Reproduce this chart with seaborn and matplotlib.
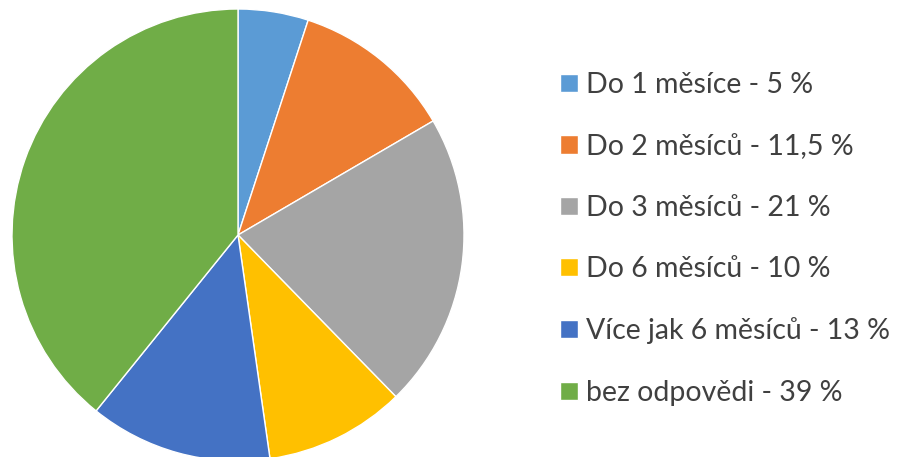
import matplotlib
matplotlib.use('Agg')
import matplotlib.pyplot as plt
import seaborn as sns

labels = ['Do 1 měsíce - 5 %', 'Do 2 měsíců - 11,5 %', 'Do 3 měsíců - 21 %',
          'Do 6 měsíců - 10 %', 'Více jak 6 měsíců - 13 %', 'bez odpovědi - 39 %']
values = [5, 11.5, 21, 10, 13, 39]
colors = ['#5B9BD5', '#ED7D31', '#A5A5A5', '#FFC000', '#4472C4', '#70AD47']

sns.set_theme(style='white')
plt.rcParams['font.family'] = ['Lato', 'DejaVu Sans']
palette = sns.color_palette(colors)

fig = plt.figure(figsize=(8.98, 4.57), dpi=100)
# pie centre (238, 235) px, radius 226 px
ax = fig.add_axes([12 / 898, -4 / 457, 452 / 898, 452 / 457])
wedges, _ = ax.pie(values, colors=palette, startangle=90, counterclock=False,
                   wedgeprops={'edgecolor': 'white', 'linewidth': 1})
ax.set_xlim(-1, 1)
ax.set_ylim(-1, 1)
ax.set_aspect('equal')
ax.axis('off')

fig.legend(wedges, labels, loc='center left', bbox_to_anchor=(560 / 898, 1 - 239 / 457),
           frameon=False, fontsize=20.5, handlelength=0.62, handleheight=0.6,
           handletextpad=0.28, labelspacing=1.24, borderaxespad=0, borderpad=0,
           labelcolor='#404040')

fig.savefig('out.png', dpi=100)
